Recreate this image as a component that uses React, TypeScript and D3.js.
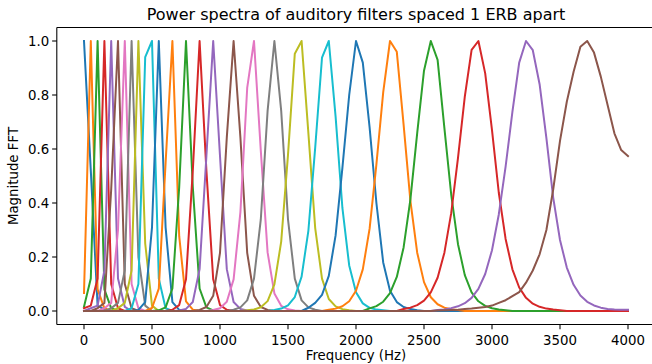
import React from 'react';
import * as d3 from 'd3';

// Frequency grid of the FFT bins (Hz)
const STEP = 50;
const FREQ_MAX = 4000;
const freqs = d3.range(0, FREQ_MAX + STEP, STEP);

// Tick labels
const xTicks = [0, 500, 1000, 1500, 2000, 2500, 3000, 3500, 4000];
const yTicks = [0.0, 0.2, 0.4, 0.6, 0.8, 1.0];

// First frequency (Hz) of each filter's listed magnitudes (zero elsewhere)
const filterStart = [0, 0, 0, 0, 50, 100, 150, 200, 250, 350, 400, 500, 550, 650, 700, 850, 950, 1100, 1200, 1400, 1650, 1800, 2100, 2350, 2600, 2600];

const filter01 = [1.0, 0.52, 0.02, 0.005];
const filter02 = [0.067, 1.0, 0.08, 0.01];
const filter03 = [0.016, 0.12, 1.0, 0.08, 0.01];
const filter04 = [0.01, 0.02, 0.12, 1.0, 0.1, 0.01];
const filter05 = [0.01, 0.02, 0.15, 1.0, 0.12, 0.015];
const filter06 = [0.01, 0.03, 0.45, 1.0, 0.1, 0.01];
const filter07 = [0.01, 0.03, 0.3, 1.0, 0.1, 0.01];
const filter08 = [0.01, 0.03, 0.15, 1.0, 0.2, 0.02];
const filter09 = [0.01, 0.03, 0.15, 1.0, 0.25, 0.02];
const filter10 = [0.01, 0.10, 0.94, 1.0, 0.12, 0.01];
const filter11 = [0.004, 0.033, 0.31, 1.0, 0.31, 0.033, 0.004];
const filter12 = [0.011, 0.083, 0.548, 1.0, 0.277, 0.036, 0.005];
const filter13 = [0.0026, 0.0134, 0.0833, 0.459, 1.0, 0.459, 0.0833, 0.0134, 0.0026];
const filter14 = [0.0046, 0.022, 0.1174, 0.52, 1.0, 0.52, 0.1174, 0.022, 0.0046];
const filter15 = [0.002, 0.0077, 0.0334, 0.155, 0.574, 1.0, 0.574, 0.155, 0.0334, 0.0077, 0.002];
const filter16 = [0.0042, 0.0147, 0.0563, 0.2153, 0.643, 1.0, 0.643, 0.2153, 0.0563, 0.0147, 0.0042];
const filter17 = [0.0035, 0.0105, 0.0343, 0.117, 0.366, 0.826, 1.0, 0.594, 0.217, 0.065, 0.0193, 0.0061, 0.0021];
const filter18 = [0.0048, 0.0133, 0.0394, 0.12, 0.339, 0.741, 1.0, 0.741, 0.339, 0.12, 0.0394, 0.0133, 0.0048];
const filter19 = [0.0024, 0.0056, 0.0139, 0.0366, 0.0986, 0.257, 0.578, 0.953, 1.0, 0.658, 0.307, 0.12, 0.0445, 0.0169, 0.0067, 0.0028];
const filter20 = [0.004, 0.009, 0.0212, 0.0517, 0.1274, 0.298, 0.605, 0.938, 1.0, 0.72, 0.3816, 0.1686, 0.0691, 0.0282, 0.0118, 0.0052, 0.0024];
const filter21 = [0.012, 0.03, 0.06, 0.13, 0.28, 0.53, 0.80, 1.0, 0.92, 0.68, 0.40, 0.18, 0.075, 0.033, 0.015, 0.007, 0.003];
const filter22 = [0.0046, 0.0088, 0.0176, 0.036, 0.075, 0.154, 0.305, 0.543, 0.81, 1.0, 0.96, 0.69, 0.408, 0.216, 0.107, 0.051, 0.025, 0.0123, 0.0062, 0.0033];
const filter23 = [0.0097, 0.0181, 0.0343, 0.0658, 0.1261, 0.2353, 0.4136, 0.6585, 0.89, 1.0, 0.93, 0.677, 0.4314, 0.2474, 0.1329, 0.0693, 0.036, 0.0191, 0.0102, 0.0056, 0.0031];
const filter24 = [0.0072, 0.0124, 0.0217, 0.0385, 0.0689, 0.123, 0.216, 0.3625, 0.567, 0.794, 0.967, 1.0, 0.88, 0.67, 0.438, 0.267, 0.1545, 0.087, 0.0487, 0.027, 0.0154, 0.0089, 0.0052, 0.0031];
const filter25 = [0.004, 0.006, 0.0106, 0.0174, 0.0289, 0.0486, 0.0818, 0.137, 0.225, 0.3575, 0.5346, 0.7372, 0.92, 1.0, 0.966, 0.84, 0.64, 0.42, 0.263, 0.161, 0.097, 0.0575, 0.0341, 0.0205, 0.0124, 0.0077, 0.0055, 0.005, 0.005];
const filter26 = [0.002, 0.003, 0.004, 0.005, 0.007, 0.009, 0.012, 0.015, 0.02, 0.03, 0.04, 0.055, 0.07, 0.105, 0.15, 0.21, 0.30, 0.45, 0.63, 0.775, 0.886, 0.979, 1.0, 0.957, 0.868, 0.763, 0.658, 0.596, 0.574];

const filters = [
  filter01, filter02, filter03, filter04, filter05, filter06, filter07, filter08, filter09, filter10,
  filter11, filter12, filter13, filter14, filter15, filter16, filter17, filter18, filter19, filter20,
  filter21, filter22, filter23, filter24, filter25, filter26,
];

const W = 652;
const H = 364;
const M = { left: 56.8, right: 655.2, top: 27.5, bottom: 324.5 };
const FONT = "'DejaVu Sans', sans-serif";
const TICK_FS = 13.33;

export default function App() {
  const x = d3.scaleLinear().domain([-200, 4200]).range([M.left, M.right]);
  const y = d3.scaleLinear().domain([-0.05, 1.05]).range([M.bottom, M.top]);
  const color = d3.scaleOrdinal<number, string>().domain(d3.range(10)).range(d3.schemeCategory10);

  const series = filters.map((vals, k) => {
    const offset = filterStart[k] / STEP;
    return freqs.map((f, i) => {
      const j = i - offset;
      return [f, j >= 0 && j < vals.length ? vals[j] : 0] as [number, number];
    });
  });

  const line = d3.line<[number, number]>().x((d) => x(d[0])).y((d) => y(d[1]));

  return (
    <svg width={W} height={H} style={{ position: 'absolute', left: 0, top: 0, background: '#fff' }}>
      <rect x={0} y={0} width={W} height={H} fill="#fff" />
      <defs>
        <clipPath id="plot">
          <rect x={M.left} y={M.top} width={M.right - M.left} height={M.bottom - M.top} />
        </clipPath>
      </defs>
      <g clipPath="url(#plot)">
        {series.map((s, k) => (
          <path key={k} d={line(s) || ''} fill="none" stroke={color(k % 10)} strokeWidth={2} strokeLinejoin="round" strokeLinecap="square" />
        ))}
      </g>
      <g stroke="#000" strokeWidth={1.07} fill="none">
        <line x1={M.left} y1={M.top} x2={M.left} y2={M.bottom} />
        <line x1={M.left} y1={M.bottom} x2={M.right} y2={M.bottom} />
        <line x1={M.left} y1={M.top} x2={M.right} y2={M.top} />
        <line x1={M.right} y1={M.top} x2={M.right} y2={M.bottom} />
      </g>
      <g fontFamily={FONT} fontSize={TICK_FS} fill="#000">
        {xTicks.map((t) => (
          <g key={t}>
            <line x1={x(t)} x2={x(t)} y1={M.bottom} y2={M.bottom + 4.67} stroke="#000" strokeWidth={1.07} />
            <text x={x(t)} y={M.bottom + 20.5} textAnchor="middle">{t}</text>
          </g>
        ))}
        {yTicks.map((t) => (
          <g key={t}>
            <line x1={M.left - 4.67} x2={M.left} y1={y(t)} y2={y(t)} stroke="#000" strokeWidth={1.07} />
            <text x={M.left - 7.5} y={y(t)} dy="0.36em" textAnchor="end">{t.toFixed(1)}</text>
          </g>
        ))}
        <text x={(M.left + M.right) / 2} y={360.3} textAnchor="middle">Frequency (Hz)</text>
        <text transform={`translate(18,${(M.top + M.bottom) / 2}) rotate(-90)`} textAnchor="middle">Magnitude FFT</text>
      </g>
      <text x={(M.left + M.right) / 2} y={20} textAnchor="middle" fontFamily={FONT} fontSize={16} fill="#000">
        Power spectra of auditory filters spaced 1 ERB apart
      </text>
    </svg>
  );
}
